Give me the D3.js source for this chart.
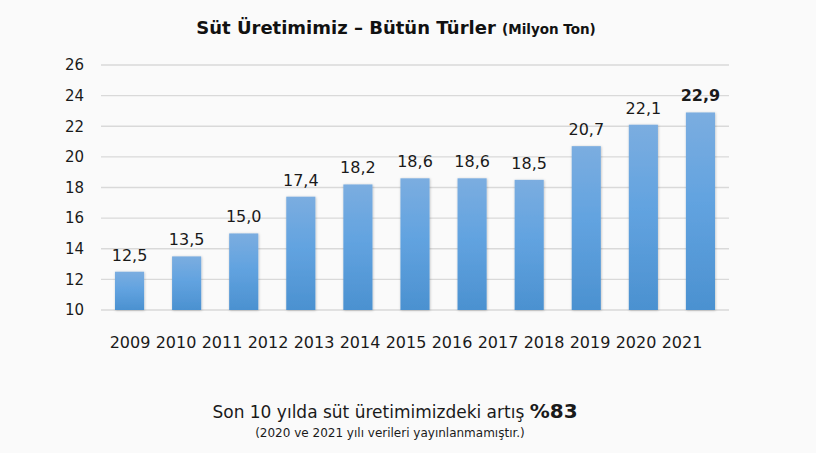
<!DOCTYPE html>
<html>
  <head>
    <meta charset="utf-8">
    <script src="https://d3js.org/d3.v7.min.js"></script>
    <style>
      body { margin: 0; background: #fafafa; }
      text { font-family: "DejaVu Sans", Verdana, sans-serif; fill: #1a1a1a; }
    </style>
  </head>
  <body>
    <svg id="chart"></svg>
    <script>
      // bars (11 values) and the year row under them (13 labels, as in the source)
      const barKeys = ["b1", "b2", "b3", "b4", "b5", "b6", "b7", "b8", "b9", "b10", "b11"];
      const barValues = [12.5, 13.5, 15.0, 17.4, 18.2, 18.6, 18.6, 18.5, 20.7, 22.1, 22.9];
      const yearLabels = ["2009", "2010", "2011", "2012", "2013", "2014", "2015", "2016", "2017", "2018", "2019", "2020", "2021"];
      const yTicks = [10, 12, 14, 16, 18, 20, 22, 24, 26];

      const width = 816, height = 453;
      const svg = d3.select("#chart").attr("width", width).attr("height", height);

      svg.append("rect").attr("width", width).attr("height", height).attr("fill", "#fafafa");

      const defs = svg.append("defs");
      const grad = defs.append("linearGradient").attr("id", "barGrad")
        .attr("x1", 0).attr("y1", 0).attr("x2", 0).attr("y2", 1);
      grad.append("stop").attr("offset", "0%").attr("stop-color", "#7bade0");
      grad.append("stop").attr("offset", "45%").attr("stop-color", "#62a3e0");
      grad.append("stop").attr("offset", "100%").attr("stop-color", "#4b91d0");

      const shadow = defs.append("filter").attr("id", "shadow")
        .attr("x", "-30%").attr("y", "-10%").attr("width", "160%").attr("height", "130%");
      shadow.append("feDropShadow").attr("dx", 0.5).attr("dy", 0.5)
        .attr("stdDeviation", 1).attr("flood-color", "#000").attr("flood-opacity", 0.25);

      const x = d3.scaleBand().domain(barKeys).range([101, 729])
        .paddingInner(0.49).paddingOuter(0.245);
      const y = d3.scaleLinear().domain([10, 26]).range([310, 65]);

      // gridlines
      svg.append("g").selectAll("line").data(yTicks).enter().append("line")
        .attr("x1", 101).attr("x2", 729)
        .attr("y1", d => y(d)).attr("y2", d => y(d))
        .attr("stroke", "#d9d9d9").attr("stroke-width", 1.3);

      // y axis labels
      const yAxis = d3.axisLeft(y).tickValues(yTicks).tickSize(0).tickPadding(0);
      const yg = svg.append("g").attr("transform", "translate(84,0)").call(yAxis);
      yg.select(".domain").remove();
      yg.selectAll("text").attr("font-size", 15).attr("font-family", "DejaVu Sans").attr("fill", "#1a1a1a");

      // bars
      svg.append("g").selectAll("rect").data(barValues).enter().append("rect")
        .attr("x", (d, i) => x(barKeys[i]))
        .attr("width", x.bandwidth())
        .attr("y", d => y(d))
        .attr("height", d => y(10) - y(d))
        .attr("fill", "url(#barGrad)")
        .attr("filter", "url(#shadow)");

      // value labels
      const fmt = d => d.toFixed(1).replace(".", ",");
      svg.append("g").selectAll("text").data(barValues).enter().append("text")
        .attr("x", (d, i) => x(barKeys[i]) + x.bandwidth() / 2)
        .attr("y", d => y(d) - 11)
        .attr("text-anchor", "middle")
        .attr("font-size", 16)
        .attr("font-weight", (d, i) => i === barValues.length - 1 ? "bold" : "normal")
        .text(fmt);

      // year row
      const xYear = d3.scalePoint().domain(yearLabels).range([130, 682]);
      svg.append("g").selectAll("text").data(yearLabels).enter().append("text")
        .attr("x", d => xYear(d))
        .attr("y", 348)
        .attr("text-anchor", "middle")
        .attr("font-size", 16)
        .text(d => d);

      // title
      const title = svg.append("text").attr("x", 396).attr("y", 34).attr("text-anchor", "middle")
        .attr("font-weight", "bold").style("fill", "#111");
      title.append("tspan").attr("font-size", 18).text("Süt Üretimimiz – Bütün Türler ");
      title.append("tspan").attr("font-size", 13.5).text("(Milyon Ton)");

      // footer
      const foot = svg.append("text").attr("x", 395).attr("y", 418).attr("text-anchor", "middle");
      foot.append("tspan").attr("font-size", 17).text("Son 10 yılda süt üretimimizdeki artış ");
      foot.append("tspan").attr("font-size", 20).attr("font-weight", "bold").text("%83");
      svg.append("text").attr("x", 390).attr("y", 437).attr("text-anchor", "middle")
        .attr("font-size", 12).text("(2020 ve 2021 yılı verileri yayınlanmamıştır.)");
    </script>
  </body>
</html>
